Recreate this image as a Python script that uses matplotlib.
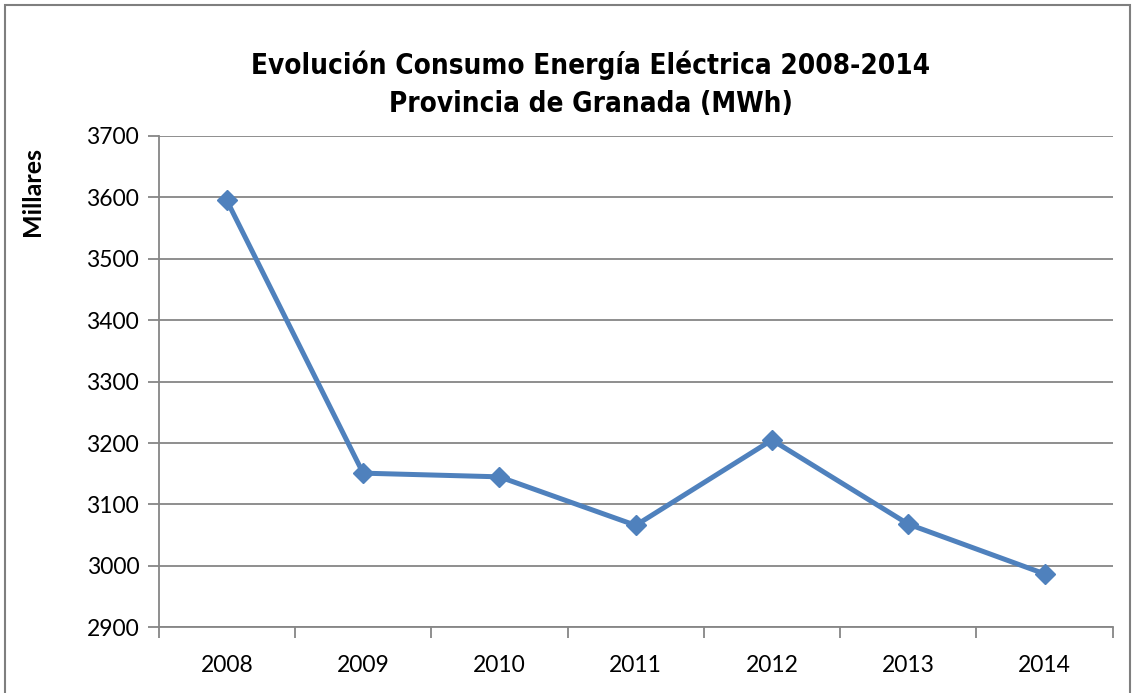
import matplotlib
matplotlib.use("Agg")
import matplotlib.pyplot as plt
from matplotlib.patches import Rectangle
from matplotlib.ticker import FixedLocator, NullFormatter

years = ["2008", "2009", "2010", "2011", "2012", "2013", "2014"]
consumo = [3595, 3151, 3145, 3066, 3205, 3068, 2987]
yticks = [2900, 3000, 3100, 3200, 3300, 3400, 3500, 3600, 3700]

title = "Evolución Consumo Energía Eléctrica 2008-2014\nProvincia de Granada (MWh)"
ylabel = "Millares"

W, H = 1134, 693
fig = plt.figure(figsize=(W / 100, H / 100), dpi=100)
fig.patch.set_facecolor("white")

fig.patches.append(Rectangle((5 / W, -0.05), (1130 - 5) / W, 1 - 5 / H + 0.05,
                             transform=fig.transFigure, fill=False,
                             edgecolor="#7f7f7f", linewidth=1.5))

ax = fig.add_axes([158.7 / W, 1 - 627.3 / H, (1112.7 - 158.7) / W, (627.3 - 136) / H])
x = list(range(len(years)))
ax.plot(x, consumo, color="#4F81BD", linewidth=3.6, marker="D", markersize=10.5,
        markeredgecolor="#4F81BD", markerfacecolor="#4F81BD", zorder=3, clip_on=False)

ax.set_xlim(-0.5, len(years) - 0.5)
ax.set_ylim(2900, 3700)
ax.set_yticks(yticks)
ax.set_yticklabels([str(v) for v in yticks], fontsize=16.5, family=["Lato", "DejaVu Sans"])
ax.set_xticks(x)
ax.set_xticklabels(years, fontsize=16.5, family=["Lato", "DejaVu Sans"])
ax.tick_params(axis="x", which="major", length=0, pad=20)
ax.xaxis.set_minor_locator(FixedLocator([i - 0.5 for i in range(len(years) + 1)]))
ax.xaxis.set_minor_formatter(NullFormatter())
ax.tick_params(axis="x", which="minor", length=8, width=1.3, color="#868686", direction="out")
ax.tick_params(axis="y", length=8, width=1.3, color="#868686", direction="out", pad=6)

ax.grid(axis="y", color="#868686", linewidth=1.3)
ax.set_axisbelow(True)
for s in ["top", "right"]:
    ax.spines[s].set_visible(False)
for s in ["left", "bottom"]:
    ax.spines[s].set_color("#868686")
    ax.spines[s].set_linewidth(1.3)

fig.text(591 / W, 1 - 84 / H, title, ha="center", va="center", fontsize=20,
         fontweight="bold", fontstretch="condensed", family=["DejaVu Sans"],
         linespacing=1.45)
fig.text(32 / W, 1 - 192 / H, ylabel, rotation=90, ha="center", va="center",
         fontsize=18, fontweight="bold", family=["Lato", "DejaVu Sans"])

fig.savefig("out.png", dpi=100, facecolor="white")
